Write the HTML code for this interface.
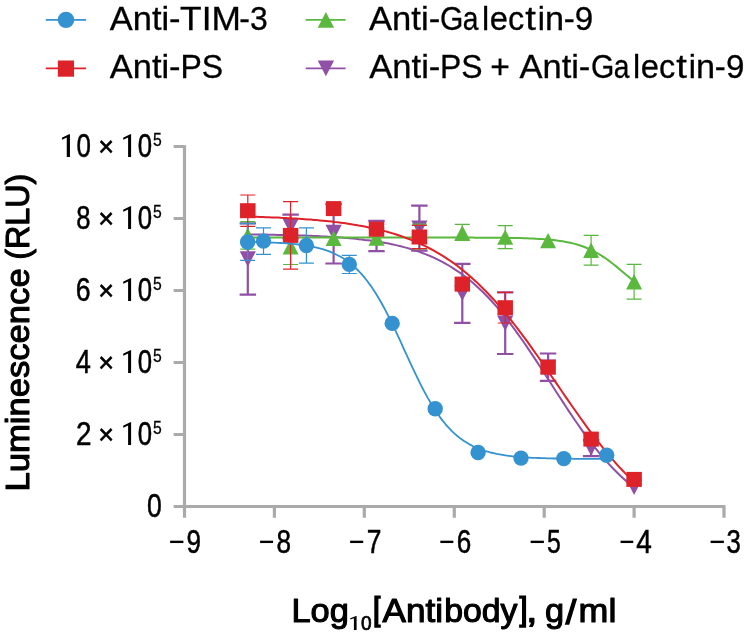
<!DOCTYPE html>
<html><head><meta charset="utf-8"><title>Chart</title>
<style>html,body{margin:0;padding:0;background:#fff}body{width:744px;height:638px;overflow:hidden}</style></head>
<body>
<svg width="744" height="638" viewBox="0 0 744 638" style="display:block;will-change:transform;font-family:'Liberation Sans',sans-serif">
<rect width="744" height="638" fill="#fff"/>
<path d="M184.5,145.2V506.5M173.6,506.5H725.5M173.6,146.5H184.5M173.6,218.5H184.5M173.6,290.5H184.5M173.6,362.5H184.5M173.6,434.5H184.5M184.5,506.5V517.7M274.4,506.5V517.7M364.3,506.5V517.7M454.3,506.5V517.7M544.2,506.5V517.7M634.1,506.5V517.7M724.0,506.5V517.7" stroke="#aaaaaa" stroke-width="3.2" fill="none"/>
<g id="purple">
<path d="M247.8,234.4 L250.8,234.4 L253.8,234.5 L256.8,234.5 L259.8,234.5 L262.8,234.6 L265.8,234.6 L268.8,234.7 L271.8,234.7 L274.8,234.8 L277.8,234.9 L280.8,234.9 L283.8,235.0 L286.8,235.1 L289.8,235.1 L292.8,235.2 L295.8,235.3 L298.8,235.4 L301.8,235.5 L304.8,235.6 L307.8,235.7 L310.8,235.8 L313.8,236.0 L316.8,236.1 L319.8,236.2 L322.8,236.4 L325.8,236.5 L328.8,236.7 L331.8,236.9 L334.8,237.1 L337.8,237.3 L340.8,237.5 L343.8,237.8 L346.8,238.0 L349.8,238.3 L352.8,238.5 L355.8,238.8 L358.8,239.2 L361.8,239.5 L364.8,239.9 L367.8,240.2 L370.8,240.6 L373.8,241.1 L376.8,241.5 L379.8,242.0 L382.8,242.5 L385.8,243.1 L388.8,243.6 L391.8,244.2 L394.8,244.9 L397.8,245.6 L400.8,246.3 L403.8,247.1 L406.8,247.9 L409.8,248.7 L412.8,249.7 L415.8,250.6 L418.8,251.6 L421.8,252.7 L424.8,253.9 L427.8,255.1 L430.8,256.3 L433.8,257.7 L436.8,259.1 L439.8,260.6 L442.8,262.2 L445.8,263.8 L448.8,265.5 L451.8,267.4 L454.8,269.3 L457.8,271.3 L460.8,273.4 L463.8,275.6 L466.8,277.9 L469.8,280.3 L472.8,282.8 L475.8,285.4 L478.8,288.2 L481.8,291.0 L484.8,294.0 L487.8,297.0 L490.8,300.2 L493.8,303.5 L496.8,306.9 L499.8,310.5 L502.8,314.1 L505.8,317.8 L508.8,321.7 L511.8,325.6 L514.8,329.6 L517.8,333.8 L520.8,338.0 L523.8,342.3 L526.8,346.6 L529.8,351.1 L532.8,355.6 L535.8,360.1 L538.8,364.7 L541.8,369.3 L544.8,374.0 L547.8,378.7 L550.8,383.3 L553.8,388.0 L556.8,392.7 L559.8,397.3 L562.8,401.9 L565.8,406.5 L568.8,411.1 L571.8,415.5 L574.8,420.0 L577.8,424.3 L580.8,428.6 L583.8,432.8 L586.8,436.9 L589.8,440.9 L592.8,444.8 L595.8,448.6 L598.8,452.4 L601.8,456.0 L604.8,459.5 L607.8,462.8 L610.8,466.1 L613.8,469.3 L616.8,472.3 L619.8,475.3 L622.8,478.1 L625.8,480.8 L628.8,483.4 L631.8,485.9 L634.1,487.7" fill="none" stroke="#8f50a5" stroke-width="2.0" stroke-linejoin="round"/>
<path d="M247.8,223.4V294.6M239.6,223.4h16.4M239.6,294.6h16.4" stroke="#8f50a5" stroke-width="2.2" fill="none"/>
<path d="M290.6,214.6V238.2M282.4,214.6h16.4M282.4,238.2h16.4" stroke="#8f50a5" stroke-width="2.2" fill="none"/>
<path d="M333.6,204.1V263.5M325.4,204.1h16.4M325.4,263.5h16.4" stroke="#8f50a5" stroke-width="2.2" fill="none"/>
<path d="M376.5,220.8V251.2M368.3,220.8h16.4M368.3,251.2h16.4" stroke="#8f50a5" stroke-width="2.2" fill="none"/>
<path d="M419.4,205.7V250.7M411.2,205.7h16.4M411.2,250.7h16.4" stroke="#8f50a5" stroke-width="2.2" fill="none"/>
<path d="M462.3,263.8V322.8M454.1,263.8h16.4M454.1,322.8h16.4" stroke="#8f50a5" stroke-width="2.2" fill="none"/>
<path d="M505.2,292.4V354.0M497.0,292.4h16.4M497.0,354.0h16.4" stroke="#8f50a5" stroke-width="2.2" fill="none"/>
<path d="M548.1,353.5V380.9M539.9,353.5h16.4M539.9,380.9h16.4" stroke="#8f50a5" stroke-width="2.2" fill="none"/>
<path d="M591.1,440.1V456.1M582.9,440.1h16.4M582.9,456.1h16.4" stroke="#8f50a5" stroke-width="2.2" fill="none"/>
<path d="M247.8,266.8L255.9,251.2H239.7Z" fill="#8f50a5"/>
<path d="M290.6,234.2L298.7,218.6H282.5Z" fill="#8f50a5"/>
<path d="M333.6,240.4L341.7,224.8H325.5Z" fill="#8f50a5"/>
<path d="M376.5,243.8L384.6,228.2H368.4Z" fill="#8f50a5"/>
<path d="M419.4,236.0L427.5,220.4H411.3Z" fill="#8f50a5"/>
<path d="M462.3,301.1L470.4,285.5H454.2Z" fill="#8f50a5"/>
<path d="M505.2,331.0L513.3,315.4H497.1Z" fill="#8f50a5"/>
<path d="M548.1,375.0L556.2,359.4H540.0Z" fill="#8f50a5"/>
<path d="M591.1,455.9L599.2,440.3H583.0Z" fill="#8f50a5"/>
<path d="M634.1,495.1L642.2,479.5H626.0Z" fill="#8f50a5"/>
</g><g id="green">
<path d="M247.8,237.6 L250.8,237.6 L253.8,237.6 L256.8,237.6 L259.8,237.6 L262.8,237.6 L265.8,237.6 L268.8,237.6 L271.8,237.6 L274.8,237.6 L277.8,237.6 L280.8,237.6 L283.8,237.6 L286.8,237.6 L289.8,237.6 L292.8,237.6 L295.8,237.6 L298.8,237.6 L301.8,237.6 L304.8,237.6 L307.8,237.6 L310.8,237.6 L313.8,237.6 L316.8,237.6 L319.8,237.6 L322.8,237.6 L325.8,237.6 L328.8,237.6 L331.8,237.6 L334.8,237.6 L337.8,237.6 L340.8,237.6 L343.8,237.6 L346.8,237.6 L349.8,237.6 L352.8,237.6 L355.8,237.6 L358.8,237.6 L361.8,237.6 L364.8,237.6 L367.8,237.6 L370.8,237.6 L373.8,237.6 L376.8,237.6 L379.8,237.6 L382.8,237.6 L385.8,237.6 L388.8,237.6 L391.8,237.6 L394.8,237.6 L397.8,237.6 L400.8,237.6 L403.8,237.6 L406.8,237.6 L409.8,237.6 L412.8,237.6 L415.8,237.6 L418.8,237.6 L421.8,237.6 L424.8,237.6 L427.8,237.6 L430.8,237.6 L433.8,237.6 L436.8,237.6 L439.8,237.6 L442.8,237.6 L445.8,237.6 L448.8,237.6 L451.8,237.6 L454.8,237.6 L457.8,237.6 L460.8,237.6 L463.8,237.6 L466.8,237.6 L469.8,237.6 L472.8,237.6 L475.8,237.7 L478.8,237.7 L481.8,237.7 L484.8,237.7 L487.8,237.7 L490.8,237.7 L493.8,237.7 L496.8,237.8 L499.8,237.8 L502.8,237.8 L505.8,237.9 L508.8,237.9 L511.8,237.9 L514.8,238.0 L517.8,238.1 L520.8,238.1 L523.8,238.2 L526.8,238.3 L529.8,238.4 L532.8,238.5 L535.8,238.7 L538.8,238.9 L541.8,239.0 L544.8,239.3 L547.8,239.5 L550.8,239.8 L553.8,240.1 L556.8,240.5 L559.8,240.9 L562.8,241.3 L565.8,241.9 L568.8,242.5 L571.8,243.1 L574.8,243.9 L577.8,244.8 L580.8,245.7 L583.8,246.8 L586.8,248.0 L589.8,249.3 L592.8,250.7 L595.8,252.3 L598.8,254.0 L601.8,255.8 L604.8,257.8 L607.8,259.9 L610.8,262.2 L613.8,264.5 L616.8,266.9 L619.8,269.4 L622.8,271.9 L625.8,274.4 L628.8,277.0 L631.8,279.5 L634.1,281.4" fill="none" stroke="#5ab83e" stroke-width="2.0" stroke-linejoin="round"/>
<path d="M247.8,221.7V249.1M240.3,221.7h15M240.3,249.1h15" stroke="#5ab83e" stroke-width="1.2" fill="none"/>
<path d="M290.6,229.1V264.5M283.1,229.1h15M283.1,264.5h15" stroke="#5ab83e" stroke-width="1.2" fill="none"/>
<path d="M419.4,224.1V249.0M411.9,224.1h15M411.9,249.0h15" stroke="#5ab83e" stroke-width="1.2" fill="none"/>
<path d="M462.3,224.3V240.4M454.8,224.3h15M454.8,240.4h15" stroke="#5ab83e" stroke-width="1.2" fill="none"/>
<path d="M505.2,225.6V248.6M497.7,225.6h15M497.7,248.6h15" stroke="#5ab83e" stroke-width="1.2" fill="none"/>
<path d="M591.1,235.3V265.1M583.6,235.3h15M583.6,265.1h15" stroke="#5ab83e" stroke-width="1.2" fill="none"/>
<path d="M634.1,264.4V299.2M626.6,264.4h15M626.6,299.2h15" stroke="#5ab83e" stroke-width="1.2" fill="none"/>
<path d="M247.8,227.7L255.8,243.1H239.8Z" fill="#5ab83e"/>
<path d="M290.6,239.1L298.6,254.5H282.6Z" fill="#5ab83e"/>
<path d="M333.6,230.5L341.6,245.9H325.6Z" fill="#5ab83e"/>
<path d="M376.5,230.4L384.5,245.8H368.5Z" fill="#5ab83e"/>
<path d="M419.4,228.7L427.4,244.1H411.4Z" fill="#5ab83e"/>
<path d="M462.3,225.3L470.3,240.7H454.3Z" fill="#5ab83e"/>
<path d="M505.2,229.4L513.2,244.8H497.2Z" fill="#5ab83e"/>
<path d="M548.1,232.9L556.1,248.3H540.1Z" fill="#5ab83e"/>
<path d="M591.1,242.5L599.1,257.9H583.1Z" fill="#5ab83e"/>
<path d="M634.1,274.1L642.1,289.5H626.1Z" fill="#5ab83e"/>
</g><g id="red">
<path d="M247.8,216.6 L250.8,216.7 L253.8,216.8 L256.8,216.8 L259.8,216.9 L262.8,217.0 L265.8,217.2 L268.8,217.3 L271.8,217.4 L274.8,217.5 L277.8,217.6 L280.8,217.8 L283.8,217.9 L286.8,218.1 L289.8,218.2 L292.8,218.4 L295.8,218.6 L298.8,218.8 L301.8,219.0 L304.8,219.2 L307.8,219.4 L310.8,219.6 L313.8,219.9 L316.8,220.1 L319.8,220.4 L322.8,220.7 L325.8,221.0 L328.8,221.3 L331.8,221.6 L334.8,222.0 L337.8,222.3 L340.8,222.7 L343.8,223.1 L346.8,223.5 L349.8,224.0 L352.8,224.5 L355.8,224.9 L358.8,225.5 L361.8,226.0 L364.8,226.6 L367.8,227.2 L370.8,227.8 L373.8,228.5 L376.8,229.1 L379.8,229.9 L382.8,230.6 L385.8,231.4 L388.8,232.3 L391.8,233.1 L394.8,234.0 L397.8,235.0 L400.8,236.0 L403.8,237.1 L406.8,238.2 L409.8,239.3 L412.8,240.5 L415.8,241.8 L418.8,243.1 L421.8,244.5 L424.8,245.9 L427.8,247.4 L430.8,249.0 L433.8,250.6 L436.8,252.3 L439.8,254.1 L442.8,255.9 L445.8,257.8 L448.8,259.8 L451.8,261.9 L454.8,264.0 L457.8,266.3 L460.8,268.6 L463.8,271.0 L466.8,273.5 L469.8,276.0 L472.8,278.7 L475.8,281.4 L478.8,284.3 L481.8,287.2 L484.8,290.2 L487.8,293.3 L490.8,296.5 L493.8,299.7 L496.8,303.1 L499.8,306.5 L502.8,310.1 L505.8,313.7 L508.8,317.4 L511.8,321.1 L514.8,325.0 L517.8,328.9 L520.8,332.8 L523.8,336.9 L526.8,340.9 L529.8,345.1 L532.8,349.3 L535.8,353.5 L538.8,357.8 L541.8,362.1 L544.8,366.4 L547.8,370.8 L550.8,375.2 L553.8,379.6 L556.8,383.9 L559.8,388.3 L562.8,392.7 L565.8,397.1 L568.8,401.4 L571.8,405.7 L574.8,410.0 L577.8,414.3 L580.8,418.5 L583.8,422.7 L586.8,426.8 L589.8,430.8 L592.8,434.8 L595.8,438.8 L598.8,442.6 L601.8,446.4 L604.8,450.2 L607.8,453.8 L610.8,457.4 L613.8,460.9 L616.8,464.3 L619.8,467.6 L622.8,470.8 L625.8,473.9 L628.8,477.0 L631.8,479.9 L634.1,482.2" fill="none" stroke="#de2229" stroke-width="2.0" stroke-linejoin="round"/>
<path d="M247.8,195.0V226.4M240.3,195.0h15M240.3,226.4h15" stroke="#de2229" stroke-width="1.2" fill="none"/>
<path d="M290.6,201.6V269.2M283.1,201.6h15M283.1,269.2h15" stroke="#de2229" stroke-width="1.2" fill="none"/>
<path d="M419.4,225.3V248.7M411.9,225.3h15M411.9,248.7h15" stroke="#de2229" stroke-width="1.2" fill="none"/>
<path d="M505.2,292.4V323.0M497.7,292.4h15M497.7,323.0h15" stroke="#de2229" stroke-width="1.2" fill="none"/>
<rect x="240.05" y="203.20" width="15.5" height="15.0" fill="#de2229"/>
<rect x="282.85" y="227.90" width="15.5" height="15.0" fill="#de2229"/>
<rect x="325.85" y="201.10" width="15.5" height="15.0" fill="#de2229"/>
<rect x="368.75" y="221.70" width="15.5" height="15.0" fill="#de2229"/>
<rect x="411.65" y="229.50" width="15.5" height="15.0" fill="#de2229"/>
<rect x="454.55" y="276.60" width="15.5" height="15.0" fill="#de2229"/>
<rect x="497.45" y="300.20" width="15.5" height="15.0" fill="#de2229"/>
<rect x="540.35" y="359.70" width="15.5" height="15.0" fill="#de2229"/>
<rect x="583.35" y="431.60" width="15.5" height="15.0" fill="#de2229"/>
<rect x="626.35" y="471.90" width="15.5" height="15.0" fill="#de2229"/>
</g><g id="blue">
<path d="M247.6,241.9 L250.6,242.0 L253.6,242.1 L256.6,242.1 L259.6,242.2 L262.6,242.3 L265.6,242.4 L268.6,242.5 L271.6,242.6 L274.6,242.7 L277.6,242.8 L280.6,243.0 L283.6,243.2 L286.6,243.4 L289.6,243.6 L292.6,243.9 L295.6,244.2 L298.6,244.5 L301.6,244.9 L304.6,245.3 L307.6,245.8 L310.6,246.3 L313.6,246.9 L316.6,247.6 L319.6,248.4 L322.6,249.2 L325.6,250.2 L328.6,251.2 L331.6,252.4 L334.6,253.7 L337.6,255.2 L340.6,256.8 L343.6,258.6 L346.6,260.7 L349.6,262.9 L352.6,265.3 L355.6,268.0 L358.6,271.0 L361.6,274.2 L364.6,277.7 L367.6,281.5 L370.6,285.6 L373.6,290.0 L376.6,294.7 L379.6,299.7 L382.6,305.0 L385.6,310.6 L388.6,316.5 L391.6,322.5 L394.6,328.8 L397.6,335.2 L400.6,341.7 L403.6,348.3 L406.6,354.8 L409.6,361.4 L412.6,367.9 L415.6,374.2 L418.6,380.4 L421.6,386.4 L424.6,392.1 L427.6,397.6 L430.6,402.8 L433.6,407.7 L436.6,412.3 L439.6,416.6 L442.6,420.6 L445.6,424.3 L448.6,427.7 L451.6,430.8 L454.6,433.6 L457.6,436.2 L460.6,438.6 L463.6,440.7 L466.6,442.6 L469.6,444.4 L472.6,446.0 L475.6,447.4 L478.6,448.6 L481.6,449.8 L484.6,450.8 L487.6,451.7 L490.6,452.5 L493.6,453.2 L496.6,453.9 L499.6,454.4 L502.6,454.9 L505.6,455.4 L508.6,455.8 L511.6,456.2 L514.6,456.5 L517.6,456.8 L520.6,457.0 L523.6,457.2 L526.6,457.4 L529.6,457.6 L532.6,457.8 L535.6,457.9 L538.6,458.0 L541.6,458.1 L544.6,458.2 L547.6,458.3 L550.6,458.4 L553.6,458.5 L556.6,458.5 L559.6,458.6 L562.6,458.6 L565.6,458.7 L568.6,458.7 L571.6,458.7 L574.6,458.8 L577.6,458.8 L580.6,458.8 L583.6,458.8 L586.6,458.9 L589.6,458.9 L592.6,458.9 L595.6,458.9 L598.6,458.9 L601.6,458.9 L604.6,458.9 L606.7,458.9" fill="none" stroke="#3592d0" stroke-width="1.8" stroke-linejoin="round"/>
<path d="M247.6,223.7V260.3M240.1,223.7h15M240.1,260.3h15" stroke="#3592d0" stroke-width="1.2" fill="none"/>
<path d="M263.5,227.9V254.3M256.0,227.9h15M256.0,254.3h15" stroke="#3592d0" stroke-width="1.2" fill="none"/>
<path d="M306.4,227.9V263.1M298.9,227.9h15M298.9,263.1h15" stroke="#3592d0" stroke-width="1.2" fill="none"/>
<path d="M349.3,255.3V273.5M341.8,255.3h15M341.8,273.5h15" stroke="#3592d0" stroke-width="1.2" fill="none"/>
<circle cx="247.6" cy="242.0" r="7.7" fill="#3592d0"/>
<circle cx="263.5" cy="241.1" r="7.7" fill="#3592d0"/>
<circle cx="306.4" cy="245.5" r="7.7" fill="#3592d0"/>
<circle cx="349.3" cy="264.4" r="7.7" fill="#3592d0"/>
<circle cx="392.2" cy="323.4" r="7.7" fill="#3592d0"/>
<circle cx="435.2" cy="408.7" r="7.7" fill="#3592d0"/>
<circle cx="478.1" cy="452.5" r="7.7" fill="#3592d0"/>
<circle cx="521.0" cy="458.1" r="7.7" fill="#3592d0"/>
<circle cx="563.8" cy="458.6" r="7.7" fill="#3592d0"/>
<circle cx="606.7" cy="455.2" r="7.7" fill="#3592d0"/>
</g>
<path d="M45.8,19.9H86.1" stroke="#3592d0" stroke-width="1.8"/><circle cx="66.0" cy="19.9" r="8.2" fill="#3592d0"/>
<path d="M45.8,68.4H86.1" stroke="#de2229" stroke-width="1.8"/><rect x="57.85" y="60.50" width="16.2" height="16.2" fill="#de2229"/>
<path d="M305.7,19.9H345.6" stroke="#5ab83e" stroke-width="1.8"/><path d="M325.9,12.1L334.1,27.8H317.7Z" fill="#5ab83e"/>
<path d="M305.7,68.4H345.6" stroke="#8f50a5" stroke-width="1.8"/><path d="M325.9,76.2L334.1,60.5H317.7Z" fill="#8f50a5"/>
<g stroke="#000" stroke-width="0.3">
<text x="109.75" y="29.6" font-size="33" font-weight="normal" text-anchor="start" textLength="70.83" lengthAdjust="spacingAndGlyphs" >Anti-</text>
<text x="180.11" y="29.6" font-size="33" font-weight="normal" text-anchor="start" textLength="60.82" lengthAdjust="spacingAndGlyphs" >TIM</text>
<text x="239.3" y="29.6" font-size="33" font-weight="normal" text-anchor="start" textLength="28.39" lengthAdjust="spacingAndGlyphs" >-3</text>
<text x="109.75" y="78.1" font-size="33" font-weight="normal" text-anchor="start" textLength="70.83" lengthAdjust="spacingAndGlyphs" >Anti-</text>
<text x="180.42" y="78.1" font-size="33" font-weight="normal" text-anchor="start" textLength="42.64" lengthAdjust="spacingAndGlyphs" >PS</text>
<text x="369.05" y="29.6" font-size="33" font-weight="normal" text-anchor="start" textLength="71.14" lengthAdjust="spacingAndGlyphs" >Anti-</text>
<text x="563.76" y="29.6" font-size="33" font-weight="normal" text-anchor="start" textLength="29.43" lengthAdjust="spacingAndGlyphs" >-9</text>
<text x="369.25" y="78.1" font-size="33" font-weight="normal" text-anchor="start" textLength="71.14" lengthAdjust="spacingAndGlyphs" >Anti-</text>
<text x="439.93" y="78.1" font-size="33" font-weight="normal" text-anchor="start" textLength="42.53" lengthAdjust="spacingAndGlyphs" >PS</text>
<text x="490.37" y="78.1" font-size="33" font-weight="normal" text-anchor="start" textLength="19.62" lengthAdjust="spacingAndGlyphs" >+</text>
<text x="519.45" y="78.1" font-size="33" font-weight="normal" text-anchor="start" textLength="70.93" lengthAdjust="spacingAndGlyphs" >Anti-</text>
<text x="714.86" y="78.1" font-size="33" font-weight="normal" text-anchor="start" textLength="29.43" lengthAdjust="spacingAndGlyphs" >-9</text>
<text x="591.08" y="78.1" font-size="33" font-weight="normal" text-anchor="start" textLength="23.35" lengthAdjust="spacingAndGlyphs" >G</text>
<text x="613.74" y="78.1" font-size="33" font-weight="normal" text-anchor="start" textLength="15.68" lengthAdjust="spacingAndGlyphs" >a</text>
<text x="632.95" y="78.1" font-size="33" font-weight="normal" text-anchor="start" textLength="7.2" lengthAdjust="spacingAndGlyphs" >l</text>
<text x="640.67" y="78.1" font-size="33" font-weight="normal" text-anchor="start" textLength="18.17" lengthAdjust="spacingAndGlyphs" >e</text>
<text x="659.09" y="78.1" font-size="33" font-weight="normal" text-anchor="start" textLength="16.24" lengthAdjust="spacingAndGlyphs" >c</text>
<text x="676.3" y="78.1" font-size="33" font-weight="normal" text-anchor="start" textLength="10.65" lengthAdjust="spacingAndGlyphs" >t</text>
<text x="688.65" y="78.1" font-size="33" font-weight="normal" text-anchor="start" textLength="7.2" lengthAdjust="spacingAndGlyphs" >i</text>
<text x="695.9" y="78.1" font-size="33" font-weight="normal" text-anchor="start" textLength="19.05" lengthAdjust="spacingAndGlyphs" >n</text>
<text x="440.08" y="29.6" font-size="33" font-weight="normal" text-anchor="start" textLength="23.35" lengthAdjust="spacingAndGlyphs" >G</text>
<text x="462.74" y="29.6" font-size="33" font-weight="normal" text-anchor="start" textLength="15.68" lengthAdjust="spacingAndGlyphs" >a</text>
<text x="481.95" y="29.6" font-size="33" font-weight="normal" text-anchor="start" textLength="7.2" lengthAdjust="spacingAndGlyphs" >l</text>
<text x="489.67" y="29.6" font-size="33" font-weight="normal" text-anchor="start" textLength="18.17" lengthAdjust="spacingAndGlyphs" >e</text>
<text x="508.09" y="29.6" font-size="33" font-weight="normal" text-anchor="start" textLength="16.24" lengthAdjust="spacingAndGlyphs" >c</text>
<text x="525.3" y="29.6" font-size="33" font-weight="normal" text-anchor="start" textLength="10.65" lengthAdjust="spacingAndGlyphs" >t</text>
<text x="537.65" y="29.6" font-size="33" font-weight="normal" text-anchor="start" textLength="7.2" lengthAdjust="spacingAndGlyphs" >i</text>
<text x="544.9" y="29.6" font-size="33" font-weight="normal" text-anchor="start" textLength="19.05" lengthAdjust="spacingAndGlyphs" >n</text>
</g>
<path d="M69.95,134.20V157.05H66.75V137.50L62.20,139.70L61.85,137.70L69.05,134.20Z" fill="#000"/>
<text x="76.42" y="156.95" font-size="34" font-weight="normal" text-anchor="start" textLength="14.44" lengthAdjust="spacingAndGlyphs" stroke="#000" stroke-width="0.55">0</text>
<text x="98.35" y="155.85" font-size="28.5" font-weight="normal" text-anchor="start" textLength="15.75" lengthAdjust="spacingAndGlyphs" stroke="#000" stroke-width="0.6">×</text>
<path d="M131.10,134.20V157.05H128.10V137.50L123.41,139.70L123.06,137.70L130.20,134.20Z" fill="#000"/>
<text x="137.73" y="156.95" font-size="34" font-weight="normal" text-anchor="start" textLength="14.33" lengthAdjust="spacingAndGlyphs" stroke="#000" stroke-width="0.55">0</text>
<text x="153.05" y="145.9" font-size="18.5" font-weight="normal" text-anchor="start" textLength="8.74" lengthAdjust="spacingAndGlyphs" stroke="#000" stroke-width="0.3">5</text>
<text x="76.21" y="228.95" font-size="34" font-weight="normal" text-anchor="start" textLength="14.25" lengthAdjust="spacingAndGlyphs" stroke="#000" stroke-width="0.55">8</text>
<text x="98.35" y="227.85" font-size="28.5" font-weight="normal" text-anchor="start" textLength="15.75" lengthAdjust="spacingAndGlyphs" stroke="#000" stroke-width="0.6">×</text>
<path d="M131.10,206.20V229.05H128.10V209.50L123.41,211.70L123.06,209.70L130.20,206.20Z" fill="#000"/>
<text x="137.73" y="228.95" font-size="34" font-weight="normal" text-anchor="start" textLength="14.33" lengthAdjust="spacingAndGlyphs" stroke="#000" stroke-width="0.55">0</text>
<text x="153.05" y="217.9" font-size="18.5" font-weight="normal" text-anchor="start" textLength="8.74" lengthAdjust="spacingAndGlyphs" stroke="#000" stroke-width="0.3">5</text>
<text x="75.83" y="300.95" font-size="34" font-weight="normal" text-anchor="start" textLength="14.84" lengthAdjust="spacingAndGlyphs" stroke="#000" stroke-width="0.55">6</text>
<text x="98.35" y="299.84999999999997" font-size="28.5" font-weight="normal" text-anchor="start" textLength="15.75" lengthAdjust="spacingAndGlyphs" stroke="#000" stroke-width="0.6">×</text>
<path d="M131.10,278.20V301.05H128.10V281.50L123.41,283.70L123.06,281.70L130.20,278.20Z" fill="#000"/>
<text x="137.73" y="300.95" font-size="34" font-weight="normal" text-anchor="start" textLength="14.33" lengthAdjust="spacingAndGlyphs" stroke="#000" stroke-width="0.55">0</text>
<text x="153.05" y="289.9" font-size="18.5" font-weight="normal" text-anchor="start" textLength="8.74" lengthAdjust="spacingAndGlyphs" stroke="#000" stroke-width="0.3">5</text>
<text x="75.67" y="372.95" font-size="34" font-weight="normal" text-anchor="start" textLength="15.13" lengthAdjust="spacingAndGlyphs" stroke="#000" stroke-width="0.55">4</text>
<text x="98.35" y="371.84999999999997" font-size="28.5" font-weight="normal" text-anchor="start" textLength="15.75" lengthAdjust="spacingAndGlyphs" stroke="#000" stroke-width="0.6">×</text>
<path d="M131.10,350.20V373.05H128.10V353.50L123.41,355.70L123.06,353.70L130.20,350.20Z" fill="#000"/>
<text x="137.73" y="372.95" font-size="34" font-weight="normal" text-anchor="start" textLength="14.33" lengthAdjust="spacingAndGlyphs" stroke="#000" stroke-width="0.55">0</text>
<text x="153.05" y="361.9" font-size="18.5" font-weight="normal" text-anchor="start" textLength="8.74" lengthAdjust="spacingAndGlyphs" stroke="#000" stroke-width="0.3">5</text>
<text x="75.95" y="444.95" font-size="34" font-weight="normal" text-anchor="start" textLength="15.52" lengthAdjust="spacingAndGlyphs" stroke="#000" stroke-width="0.55">2</text>
<text x="98.35" y="443.84999999999997" font-size="28.5" font-weight="normal" text-anchor="start" textLength="15.75" lengthAdjust="spacingAndGlyphs" stroke="#000" stroke-width="0.6">×</text>
<path d="M131.10,422.20V445.05H128.10V425.50L123.41,427.70L123.06,425.70L130.20,422.20Z" fill="#000"/>
<text x="137.73" y="444.95" font-size="34" font-weight="normal" text-anchor="start" textLength="14.33" lengthAdjust="spacingAndGlyphs" stroke="#000" stroke-width="0.55">0</text>
<text x="153.05" y="433.9" font-size="18.5" font-weight="normal" text-anchor="start" textLength="8.74" lengthAdjust="spacingAndGlyphs" stroke="#000" stroke-width="0.3">5</text>
<text x="146.9" y="516.95" font-size="34" font-weight="normal" text-anchor="start" textLength="14.78" lengthAdjust="spacingAndGlyphs" stroke="#000" stroke-width="0.55">0</text>
<text x="168.71" y="552.5" font-size="33.5" font-weight="normal" text-anchor="start" textLength="16.02" lengthAdjust="spacingAndGlyphs" >−</text>
<text x="186.5" y="553.2" font-size="33.5" font-weight="normal" text-anchor="start" textLength="14.47" lengthAdjust="spacingAndGlyphs" stroke="#000" stroke-width="0.55">9</text>
<text x="258.83" y="552.5" font-size="33.5" font-weight="normal" text-anchor="start" textLength="15.67" lengthAdjust="spacingAndGlyphs" >−</text>
<text x="276.54" y="553.2" font-size="33.5" font-weight="normal" text-anchor="start" textLength="14.54" lengthAdjust="spacingAndGlyphs" stroke="#000" stroke-width="0.55">8</text>
<text x="348.73" y="552.5" font-size="33.5" font-weight="normal" text-anchor="start" textLength="15.79" lengthAdjust="spacingAndGlyphs" >−</text>
<text x="366.74" y="553.2" font-size="33.5" font-weight="normal" text-anchor="start" textLength="14.67" lengthAdjust="spacingAndGlyphs" stroke="#000" stroke-width="0.55">7</text>
<text x="438.93" y="552.5" font-size="33.5" font-weight="normal" text-anchor="start" textLength="15.67" lengthAdjust="spacingAndGlyphs" >−</text>
<text x="456.85" y="553.2" font-size="33.5" font-weight="normal" text-anchor="start" textLength="14.52" lengthAdjust="spacingAndGlyphs" stroke="#000" stroke-width="0.55">6</text>
<text x="529.21" y="552.5" font-size="33.5" font-weight="normal" text-anchor="start" textLength="16.02" lengthAdjust="spacingAndGlyphs" >−</text>
<text x="546.91" y="553.2" font-size="33.5" font-weight="normal" text-anchor="start" textLength="13.8" lengthAdjust="spacingAndGlyphs" stroke="#000" stroke-width="0.55">5</text>
<text x="619.26" y="552.5" font-size="33.5" font-weight="normal" text-anchor="start" textLength="15.31" lengthAdjust="spacingAndGlyphs" >−</text>
<text x="636.19" y="553.2" font-size="33.5" font-weight="normal" text-anchor="start" textLength="15.57" lengthAdjust="spacingAndGlyphs" stroke="#000" stroke-width="0.55">4</text>
<text x="709.21" y="552.5" font-size="33.5" font-weight="normal" text-anchor="start" textLength="16.02" lengthAdjust="spacingAndGlyphs" >−</text>
<text x="726.45" y="553.2" font-size="33.5" font-weight="normal" text-anchor="start" textLength="14.3" lengthAdjust="spacingAndGlyphs" stroke="#000" stroke-width="0.55">3</text>
<text transform="translate(29,491.52) rotate(-90)" font-size="33" textLength="223.16" lengthAdjust="spacingAndGlyphs" stroke="#000" stroke-width="1.1" stroke-linejoin="round">Luminescence</text>
<text transform="translate(29,259.85) rotate(-90)" font-size="33" textLength="86.21" lengthAdjust="spacingAndGlyphs" stroke="#000" stroke-width="1.1" stroke-linejoin="round">(RLU)</text>
<text x="291.4" y="621.9" font-size="33" font-weight="normal" text-anchor="start" textLength="57.45" lengthAdjust="spacingAndGlyphs" stroke="#000" stroke-width="1.1" stroke-linejoin="round">Log</text>
<path d="M356.60,616.10V629.90H353.90V618.15L350.42,619.51L350.20,618.27L356.04,616.10Z" fill="#000"/>
<text x="360.97" y="629.85" font-size="19.5" font-weight="normal" text-anchor="start" textLength="10.62" lengthAdjust="spacingAndGlyphs" stroke="#000" stroke-width="0.7">0</text>
<path d="M374.3,595.5H380.8V598.8H378.4V624.4H380.8V627.7H374.3Z" fill="#000"/>
<text x="382.6" y="621.9" font-size="33" font-weight="normal" text-anchor="start" textLength="60.56" lengthAdjust="spacingAndGlyphs" stroke="#000" stroke-width="1.1" stroke-linejoin="round">Anti</text>
<text x="444.21" y="621.9" font-size="33" font-weight="normal" text-anchor="start" textLength="73.28" lengthAdjust="spacingAndGlyphs" stroke="#000" stroke-width="1.1" stroke-linejoin="round">body</text>
<path d="M519.1,595.5H526.1V627.7H519.1V624.4H522V598.8H519.1Z" fill="#000"/>
<text x="526.0" y="621.9" font-size="33" font-weight="normal" text-anchor="start" textLength="11.5" lengthAdjust="spacingAndGlyphs" stroke="#000" stroke-width="1.1" stroke-linejoin="round">,</text>
<text x="544.98" y="621.9" font-size="33" font-weight="normal" text-anchor="start" textLength="19.13" lengthAdjust="spacingAndGlyphs" stroke="#000" stroke-width="1.1" stroke-linejoin="round">g</text>
<path d="M572.8,598.4H577.2L569.2,624.8H564.8Z" fill="#000"/>
<text x="578.55" y="621.9" font-size="33" font-weight="normal" text-anchor="start" textLength="37.8" lengthAdjust="spacingAndGlyphs" stroke="#000" stroke-width="1.1" stroke-linejoin="round">ml</text>
</svg>
</body></html>
